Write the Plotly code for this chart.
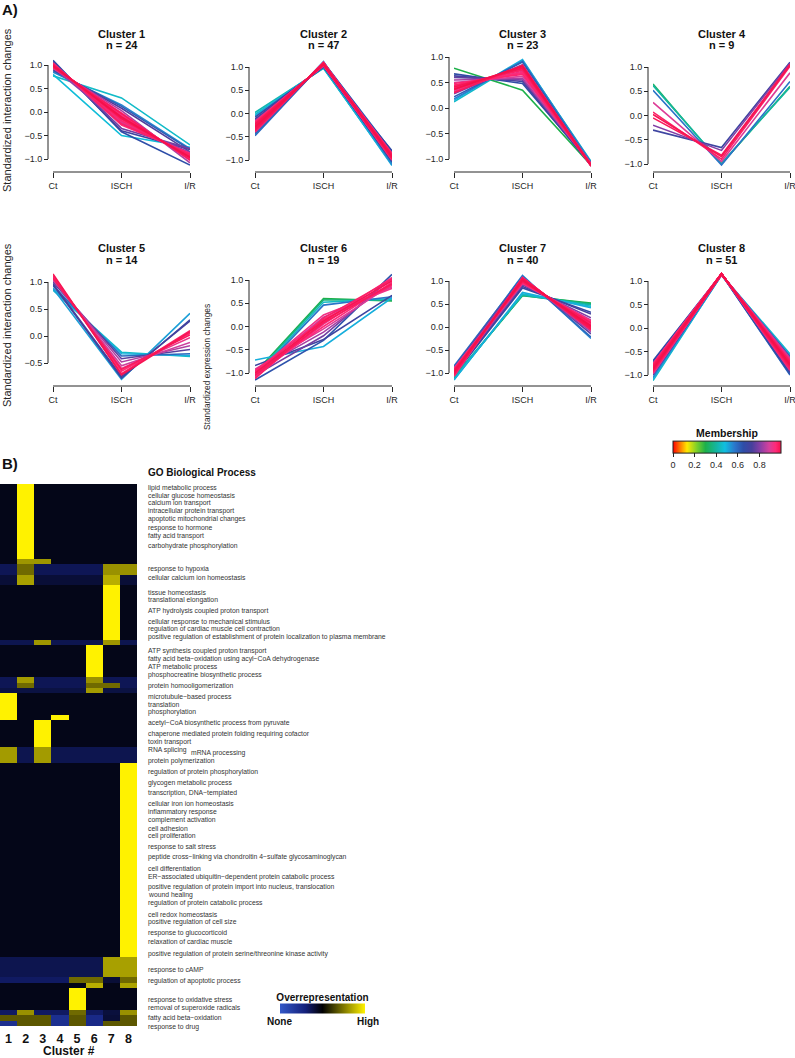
import plotly.graph_objects as go
from plotly.colors import sample_colorscale

W, H = 795, 1058
FONT = "Liberation Sans, Arial, Helvetica, sans-serif"
TXT = "#262626"

# ---------------- data: standardized profiles per cluster ----------------
conditions = ["Ct", "ISCH", "I/R"]
cluster_ids = [1, 2, 3, 4, 5, 6, 7, 8]

c1_ct = [0.77, 0.80, 0.85, 0.88, 1.10, 1.08, 0.90, 1.05, 0.95, 0.93, 1.00, 0.96, 0.98, 1.02, 0.94, 1.00, 1.04, 0.97, 1.01, 0.99, 1.03, 0.95, 1.00, 0.98]
c1_isch = [0.30, -0.50, 0.15, 0.12, -0.42, -0.40, 0.08, -0.35, -0.25, 0.03, -0.22, -0.05, -0.12, -0.20, -0.02, -0.15, -0.28, -0.08, -0.18, -0.10, -0.25, -0.04, -0.14, -0.11]
c1_ir = [-0.70, -0.75, -0.78, -0.80, -1.13, -0.80, -0.85, -0.78, -0.86, -1.08, -0.90, -1.00, -0.96, -0.92, -1.03, -0.95, -0.88, -0.99, -0.93, -0.97, -0.90, -1.02, -0.95, -0.97]
c1_mem = [0.45, 0.47, 0.55, 0.62, 0.65, 0.70, 0.74, 0.78, 0.82, 0.85, 0.88, 0.90, 0.91, 0.92, 0.93, 0.94, 0.95, 0.95, 0.96, 0.97, 0.97, 0.98, 0.99, 1.00]

c2_ct = [0.02, -0.02, -0.05, -0.45, -0.48, -0.42, -0.08, -0.38, -0.12, -0.35, -0.15, -0.30, -0.20, -0.25, -0.18, -0.28, -0.22, -0.33, -0.26, -0.31,
         -0.19, -0.36, -0.23, -0.29, -0.34, -0.21, -0.27, -0.40, -0.24, -0.32, -0.17, -0.38, -0.26, -0.30, -0.22, -0.35, -0.28, -0.20, -0.33, -0.25,
         -0.37, -0.29, -0.23, -0.31, -0.27, -0.34, -0.29]
c2_isch = [0.97, 0.98, 1.00, 1.12, 1.10, 1.08, 1.00, 1.10, 1.01, 1.08, 1.02, 1.06, 1.04, 1.05, 1.03, 1.06, 1.05, 1.08, 1.06, 1.07,
           1.04, 1.09, 1.05, 1.07, 1.08, 1.04, 1.06, 1.10, 1.05, 1.08, 1.03, 1.09, 1.06, 1.07, 1.05, 1.08, 1.07, 1.04, 1.08, 1.06,
           1.09, 1.07, 1.05, 1.07, 1.06, 1.08, 1.06]
c2_ir = [-1.10, -1.08, -1.12, -1.10, -0.82, -1.05, -0.80, -0.85, -1.02, -0.95, -0.88, -1.00, -0.92, -0.90, -0.96, -0.86, -0.98, -0.93, -0.91, -0.89,
         -0.94, -0.97, -0.87, -0.95, -0.90, -0.99, -0.93, -0.96, -0.88, -0.92, -0.97, -0.91, -1.00, -0.86, -0.94, -0.98, -0.90, -0.92, -0.95, -0.89,
         -0.93, -0.97, -0.91, -0.94, -0.92, -0.96, -0.93]
c2_mem = [0.42, 0.45, 0.50, 0.55, 0.60, 0.63, 0.66, 0.68, 0.72, 0.74, 0.77, 0.80, 0.82, 0.84, 0.86, 0.87, 0.88, 0.89, 0.90, 0.90,
          0.91, 0.91, 0.92, 0.92, 0.93, 0.93, 0.94, 0.94, 0.95, 0.95, 0.95, 0.96, 0.96, 0.96, 0.97, 0.97, 0.97, 0.97, 0.98, 0.98,
          0.98, 0.98, 0.99, 0.99, 0.99, 0.99, 1.00]

c3_ct = [0.78, 0.12, 0.15, 0.18, 0.22, 0.67, 0.63, 0.60, 0.28, 0.55, 0.35, 0.50, 0.40, 0.45, 0.32, 0.38, 0.42, 0.48, 0.36, 0.44, 0.30, 0.41, 0.37]
c3_isch = [0.35, 0.93, 0.95, 0.92, 0.90, 0.48, 0.52, 0.55, 0.85, 0.58, 0.78, 0.62, 0.72, 0.68, 0.82, 0.76, 0.70, 0.66, 0.80, 0.74, 0.84, 0.78, 0.82]
c3_ir = [-1.12, -1.05, -1.08, -1.06, -1.10, -1.10, -1.12, -1.08, -1.14, -1.10, -1.12, -1.09, -1.13, -1.11, -1.10, -1.14, -1.12, -1.10, -1.13, -1.11, -1.12, -1.14, -1.12]
c3_mem = [0.30, 0.45, 0.50, 0.56, 0.62, 0.66, 0.70, 0.76, 0.80, 0.84, 0.87, 0.89, 0.90, 0.92, 0.93, 0.94, 0.95, 0.96, 0.97, 0.97, 0.98, 0.99, 1.00]

c4_ct = [0.65, 0.62, 0.52, 0.27, 0.07, 0.02, -0.05, -0.20, -0.30]
c4_isch = [-1.00, -0.98, -1.02, -0.95, -0.90, -0.85, -0.82, -0.72, -0.66]
c4_ir = [0.60, 0.58, 0.70, 0.88, 1.02, 1.05, 1.05, 1.08, 1.10]
c4_mem = [0.33, 0.40, 0.58, 0.90, 0.97, 0.99, 0.98, 0.80, 0.70]

c5_ct = [0.85, 0.88, 0.88, 0.93, 0.95, 0.97, 1.00, 1.03, 1.05, 1.08, 1.10, 1.12, 1.15, 1.07]
c5_isch = [-0.30, -0.33, -0.80, -0.37, -0.78, -0.75, -0.42, -0.48, -0.55, -0.60, -0.65, -0.70, -0.72, -0.62]
c5_ir = [-0.38, -0.36, 0.42, -0.33, 0.30, 0.28, -0.25, -0.18, -0.12, -0.03, 0.05, 0.10, 0.08, 0.02]
c5_mem = [0.45, 0.50, 0.52, 0.60, 0.68, 0.72, 0.75, 0.85, 0.88, 0.92, 0.95, 0.97, 0.99, 0.98]

c6_ct = [-1.00, -1.02, -1.05, -0.72, -1.08, -1.15, -0.84, -1.05, -0.95, -1.00, -0.92, -1.08, -0.98, -1.10, -1.02, -0.95, -1.12, -1.05, -1.00]
c6_isch = [0.60, 0.57, 0.52, -0.43, 0.46, -0.30, -0.28, -0.20, -0.12, 0.20, -0.05, 0.05, 0.25, 0.10, 0.00, 0.15, 0.18, 0.08, 0.12]
c6_ir = [0.55, 0.57, 0.60, 0.62, 0.64, 1.12, 0.67, 1.05, 0.95, 0.85, 0.90, 1.00, 0.82, 1.05, 0.95, 0.88, 1.02, 0.92, 0.98]
c6_mem = [0.30, 0.36, 0.44, 0.50, 0.58, 0.64, 0.70, 0.78, 0.84, 0.88, 0.90, 0.92, 0.93, 0.94, 0.95, 0.96, 0.97, 0.98, 0.99]

c7_ct = [-1.10, -1.12, -1.08, -1.14, -1.15, -0.88, -0.85, -1.05, -1.02, -0.90, -1.00, -0.92, -0.98, -0.95, -1.00, -0.92, -1.05, -0.97, -0.90, -1.02,
         -0.94, -1.07, -0.99, -0.93, -1.03, -0.96, -1.01, -0.91, -1.06, -0.98, -0.95, -1.04, -0.97, -1.00, -0.93, -1.02, -0.96, -0.99, -1.01, -0.97]
c7_isch = [0.68, 0.70, 0.69, 0.72, 0.75, 1.12, 1.10, 0.85, 0.88, 1.08, 0.92, 1.05, 0.95, 1.00, 1.03, 0.98, 1.06, 1.01, 0.96, 1.04,
           0.99, 1.08, 1.02, 0.97, 1.05, 1.00, 1.03, 0.95, 1.07, 1.01, 0.99, 1.05, 1.02, 1.04, 0.98, 1.06, 1.01, 1.03, 1.05, 1.02]
c7_ir = [0.52, 0.50, 0.48, 0.45, 0.42, -0.25, -0.22, 0.32, 0.28, -0.15, 0.20, -0.10, 0.15, 0.05, 0.00, 0.08, -0.05, 0.03, 0.11, -0.02,
         0.06, -0.07, 0.02, 0.10, -0.03, 0.04, 0.00, 0.13, -0.06, 0.02, 0.07, -0.04, 0.01, -0.01, 0.09, -0.05, 0.03, 0.00, -0.03, 0.02]
c7_mem = [0.30, 0.35, 0.40, 0.45, 0.50, 0.55, 0.60, 0.68, 0.72, 0.76, 0.80, 0.84, 0.86, 0.88, 0.89, 0.90, 0.90, 0.91, 0.91, 0.92,
          0.92, 0.93, 0.93, 0.94, 0.94, 0.95, 0.95, 0.95, 0.96, 0.96, 0.96, 0.97, 0.97, 0.97, 0.98, 0.98, 0.98, 0.99, 0.99, 1.00]

c8_ct = [-1.12, -1.08, -1.05, -0.72, -0.75, -0.70, -1.00, -0.78, -0.95, -0.82, -0.90, -0.85, -0.98, -0.76, -0.88, -0.80, -0.92, -0.84, -0.78, -0.96,
         -0.86, -0.82, -0.90, -0.76, -0.88, -0.94, -0.80, -0.85, -0.91, -0.79, -0.87, -0.83, -0.93, -0.81, -0.89, -0.84, -0.77, -0.95, -0.86, -0.82,
         -0.90, -0.79, -0.88, -0.84, -0.92, -0.81, -0.86, -0.83, -0.89, -0.85, -0.87]
c8_isch = [1.13, 1.12, 1.13, 1.14, 1.14, 1.15, 1.13, 1.15, 1.14, 1.15, 1.14, 1.15, 1.14, 1.15, 1.15, 1.15, 1.14, 1.15, 1.16, 1.14,
           1.15, 1.15, 1.14, 1.16, 1.15, 1.14, 1.15, 1.15, 1.14, 1.16, 1.15, 1.15, 1.14, 1.15, 1.15, 1.15, 1.16, 1.14, 1.15, 1.15,
           1.14, 1.16, 1.15, 1.15, 1.14, 1.15, 1.15, 1.15, 1.15, 1.15, 1.15]
c8_ir = [-0.55, -0.58, -0.60, -1.00, -0.98, -0.95, -0.62, -0.92, -0.66, -0.88, -0.70, -0.85, -0.64, -0.90, -0.75, -0.85, -0.72, -0.80, -0.88, -0.68,
         -0.78, -0.83, -0.74, -0.86, -0.76, -0.70, -0.82, -0.79, -0.73, -0.87, -0.77, -0.81, -0.71, -0.84, -0.75, -0.80, -0.89, -0.69, -0.78, -0.82,
         -0.74, -0.86, -0.76, -0.81, -0.72, -0.83, -0.79, -0.80, -0.77, -0.80, -0.78]
c8_mem = [0.45, 0.50, 0.55, 0.60, 0.64, 0.67, 0.70, 0.76, 0.79, 0.82, 0.84, 0.86, 0.87, 0.88, 0.89, 0.90, 0.90, 0.90, 0.91, 0.91,
          0.91, 0.92, 0.92, 0.92, 0.93, 0.93, 0.93, 0.94, 0.94, 0.94, 0.95, 0.95, 0.95, 0.95, 0.96, 0.96, 0.96, 0.96, 0.97, 0.97,
          0.97, 0.97, 0.98, 0.98, 0.98, 0.98, 0.99, 0.99, 0.99, 0.99, 1.00]

clusters = [
    (c1_ct, c1_isch, c1_ir, c1_mem), (c2_ct, c2_isch, c2_ir, c2_mem),
    (c3_ct, c3_isch, c3_ir, c3_mem), (c4_ct, c4_isch, c4_ir, c4_mem),
    (c5_ct, c5_isch, c5_ir, c5_mem), (c6_ct, c6_isch, c6_ir, c6_mem),
    (c7_ct, c7_isch, c7_ir, c7_mem), (c8_ct, c8_isch, c8_ir, c8_mem),
]

# ---------------- data: GO enrichment heatmap ----------------
# band edges (heatmap row units, 0 = top, 100 = bottom)
hm_edges = [0, 13.84, 14.76, 16.79, 18.63, 28.78, 29.70, 35.61, 36.72, 37.64, 38.56, 42.62, 43.54,
            48.52, 51.48, 87.27, 90.96, 92.07, 92.99, 97.05, 97.97, 99.08, 100]
hm_z = [
    [0.46, 1.00, 0.46, 0.46, 0.46, 0.46, 0.46, 0.46],
    [0.46, 0.81, 0.81, 0.46, 0.46, 0.46, 0.46, 0.46],
    [0.36, 0.72, 0.36, 0.36, 0.36, 0.36, 0.80, 0.80],
    [0.41, 0.83, 0.41, 0.41, 0.41, 0.41, 0.86, 0.41],
    [0.46, 0.46, 0.46, 0.46, 0.46, 0.46, 1.00, 0.46],
    [0.37, 0.37, 0.81, 0.37, 0.37, 0.37, 0.81, 0.37],
    [0.46, 0.46, 0.46, 0.46, 0.46, 1.00, 0.46, 0.46],
    [0.36, 0.82, 0.36, 0.36, 0.36, 0.80, 0.36, 0.36],
    [0.36, 0.72, 0.36, 0.36, 0.36, 0.72, 0.72, 0.36],
    [0.39, 0.39, 0.39, 0.39, 0.39, 0.82, 0.39, 0.39],
    [1.00, 0.46, 0.46, 0.46, 0.46, 0.46, 0.46, 0.46],
    [1.00, 0.46, 0.46, 1.00, 0.46, 0.46, 0.46, 0.46],
    [0.46, 0.46, 1.00, 0.46, 0.46, 0.46, 0.46, 0.46],
    [0.82, 0.37, 0.82, 0.37, 0.37, 0.37, 0.37, 0.37],
    [0.46, 0.46, 0.46, 0.46, 0.46, 0.46, 0.46, 1.00],
    [0.37, 0.37, 0.37, 0.37, 0.37, 0.37, 0.83, 0.83],
    [0.34, 0.34, 0.34, 0.34, 0.72, 0.72, 0.41, 0.72],
    [0.46, 0.46, 0.46, 0.46, 0.46, 0.86, 0.46, 0.84],
    [0.46, 0.46, 0.46, 0.46, 1.00, 0.46, 0.46, 0.46],
    [0.34, 0.80, 0.34, 0.34, 0.72, 0.34, 0.40, 0.80],
    [0.68, 0.68, 0.68, 0.22, 0.68, 0.25, 0.41, 0.68],
    [0.22, 0.68, 0.68, 0.22, 0.68, 0.25, 0.68, 0.68],
]

go_terms = [
    "lipid metabolic process", "cellular glucose homeostasis", "calcium ion transport",
    "intracellular protein transport", "apoptotic mitochondrial changes", "response to hormone",
    "fatty acid transport", "carbohydrate phosphorylation", "response to hypoxia",
    "cellular calcium ion homeostasis", "tissue homeostasis", "translational elongation",
    "ATP hydrolysis coupled proton transport", "cellular response to mechanical stimulus",
    "regulation of cardiac muscle cell contraction",
    "positive regulation of establishment of protein localization to plasma membrane",
    "ATP synthesis coupled proton transport", "fatty acid beta−oxidation using acyl−CoA dehydrogenase",
    "ATP metabolic process", "phosphocreatine biosynthetic process", "protein homooligomerization",
    "microtubule−based process", "translation", "phosphorylation",
    "acetyl−CoA biosynthetic process from pyruvate", "chaperone mediated protein folding requiring cofactor",
    "toxin transport", "RNA splicing", "mRNA processing", "protein polymerization",
    "regulation of protein phosphorylation", "glycogen metabolic process", "transcription, DNA−templated",
    "cellular iron ion homeostasis", "inflammatory response", "complement activation", "cell adhesion",
    "cell proliferation", "response to salt stress",
    "peptide cross−linking via chondroitin 4−sulfate glycosaminoglycan", "cell differentiation",
    "ER−associated ubiquitin−dependent protein catabolic process",
    "positive regulation of protein import into nucleus, translocation", "wound healing",
    "regulation of protein catabolic process", "cell redox homeostasis", "positive regulation of cell size",
    "response to glucocorticoid", "relaxation of cardiac muscle",
    "positive regulation of protein serine/threonine kinase activity", "response to cAMP",
    "regulation of apoptotic process", "response to oxidative stress", "removal of superoxide radicals",
    "fatty acid beta−oxidation", "response to drug",
]
go_pos = [0.68, 2.16, 3.56, 4.98, 6.51, 8.06, 9.54, 11.44, 15.63, 17.21, 19.98, 21.40, 23.43, 25.41,
          26.81, 28.28, 30.76, 32.29, 33.71, 35.24, 37.21, 39.24, 40.65, 42.12, 44.15, 46.13, 47.60,
          49.08, 49.58, 51.05, 53.08, 55.11, 57.07, 59.04, 60.52, 61.99, 63.47, 64.94, 66.92, 68.87,
          70.90, 72.45, 74.41, 75.89, 77.36, 79.39, 80.87, 82.84, 84.32, 86.72, 89.72, 91.64, 95.15,
          96.62, 98.58, 100.13]

# ---------------- colour scales ----------------
membership_scale = [
    [0.00, "#FF0000"], [0.06, "#FF7000"], [0.13, "#FFE800"], [0.22, "#7CD02A"], [0.30, "#1DB04A"],
    [0.40, "#14B5A0"], [0.48, "#10BEE0"], [0.57, "#2A78CC"], [0.65, "#2E4EA8"], [0.73, "#47409C"],
    [0.81, "#8A3FA6"], [0.89, "#D6409C"], [0.95, "#FF2A78"], [1.00, "#F5104A"],
]
overrep_scale = [[0.0, "#3358C8"], [0.3, "#14207A"], [0.5, "#000000"], [1.0, "#FFF200"]]

# ---------------- layout geometry (pixels) ----------------
col_geom = [(48, 53, 190), (249, 255, 392), (449, 454, 591), (648, 653, 790)]  # y-axis line, Ct, I/R
row_axis_y = [172, 386]
row_title_y = [(34, 45), (248, 260)]
panel_ycal = [
    (1.0, 65, -1.0, 159, -1.22, 1.18, -1.0),
    (1.0, 67, -1.0, 160, -1.20, 1.18, -1.0),
    (1.0, 57, -1.0, 159, -1.22, 1.02, -1.0),
    (1.0, 67, -1.0, 164, -1.10, 1.18, -1.0),
    (1.0, 282, -0.5, 363, -0.88, 1.20, -0.5),
    (1.0, 280, -1.0, 373, -1.20, 1.18, -1.0),
    (1.0, 281, -1.0, 373, -1.20, 1.18, -1.0),
    (1.0, 281, -1.0, 375, -1.18, 1.20, -1.0),
]
HM_TOP, HM_BOTTOM = 484, 1026


def px_x(p):
    return p / W


def px_y(p):
    return 1 - p / H


def aid(i):
    return "" if i == 1 else str(i)


fig = go.Figure()
layout = dict(
    width=W, height=H, margin=dict(l=0, r=0, t=0, b=0, autoexpand=False),
    paper_bgcolor="white", plot_bgcolor="white",
    font=dict(family=FONT, color=TXT), showlegend=False,
)
shapes = []
annotations = []

for k, (ct, isch, ir, mem) in enumerate(clusters):
    i = k + 1
    r, c = divmod(k, 4)
    yl, xct, xir = col_geom[c]
    va, pa, vb, pb, lo, hi, alo = panel_ycal[k]
    ppu = (pb - pa) / (va - vb)
    top = pa - (hi - va) * ppu
    bottom = pa + (va - lo) * ppu

    order = sorted(range(len(mem)), key=lambda j: mem[j])
    for j in order:
        col = sample_colorscale(membership_scale, [mem[j]])[0]
        fig.add_trace(go.Scatter(
            x=[0, 1, 2], y=[ct[j], isch[j], ir[j]], mode="lines",
            line=dict(color=col, width=1.6), hoverinfo="skip",
            xaxis="x" + aid(i), yaxis="y" + aid(i), showlegend=False,
        ))

    ticks_y = [v / 2 for v in range(int(alo * 2), 3)]
    layout["xaxis" + aid(i)] = dict(
        domain=[px_x(xct), px_x(xir)], range=[0, 2], anchor="free", position=px_y(row_axis_y[r]),
        tickvals=[0, 1, 2], ticktext=conditions, ticks="outside", ticklen=5, tickwidth=1,
        tickcolor=TXT, showline=False, showgrid=False, zeroline=False, automargin=False,
        ticklabeloverflow="allow",
        tickfont=dict(size=9, color=TXT, family=FONT), fixedrange=True,
    )
    layout["yaxis" + aid(i)] = dict(
        domain=[px_y(bottom), px_y(top)], range=[lo, hi], anchor="free", position=px_x(yl),
        tickvals=ticks_y, tickformat=".1f", ticks="outside", ticklen=4, tickwidth=1,
        tickcolor=TXT, showline=False, showgrid=False, zeroline=False, automargin=False,
        tickfont=dict(size=9, color=TXT, family=FONT), fixedrange=True,
    )
    shapes.append(dict(type="line", xref="x" + aid(i), yref="paper", x0=0, x1=2,
                       y0=px_y(row_axis_y[r]), y1=px_y(row_axis_y[r]), line=dict(color=TXT, width=1)))
    shapes.append(dict(type="line", xref="paper", yref="y" + aid(i), x0=px_x(yl), x1=px_x(yl),
                       y0=alo, y1=1.0, line=dict(color=TXT, width=1)))
    cx = px_x((xct + xir) / 2)
    annotations.append(dict(text=f"<b>Cluster {cluster_ids[k]}</b>", x=cx, y=px_y(row_title_y[r][0]),
                            xref="paper", yref="paper", showarrow=False, xanchor="center", yanchor="middle",
                            font=dict(size=11, color="#111")))
    annotations.append(dict(text=f"<b>n = {len(ct)}</b>", x=cx, y=px_y(row_title_y[r][1]),
                            xref="paper", yref="paper", showarrow=False, xanchor="center", yanchor="middle",
                            font=dict(size=11, color="#111")))

# membership colour bar (dummy invisible marker)
fig.add_trace(go.Scatter(
    x=[1], y=[50], mode="markers", xaxis="x", yaxis="y", hoverinfo="skip", showlegend=False,
    marker=dict(color=[0.5], colorscale=membership_scale, cmin=0, cmax=1, opacity=0, showscale=True,
                colorbar=dict(orientation="h", x=px_x(727), xanchor="center", y=px_y(450), yanchor="middle",
                              len=108, lenmode="pixels", thickness=12, thicknessmode="pixels",
                              xpad=0, ypad=0, outlinewidth=1, outlinecolor="#222",
                              ticks="outside", ticklen=4, tickcolor="#222",
                              tickvals=[0, 0.2, 0.4, 0.6, 0.8], ticktext=["0", "0.2", "0.4", "0.6", "0.8"],
                              tickfont=dict(size=9, color=TXT, family=FONT),
                              title=dict(text="<b>Membership</b>", side="top",
                                         font=dict(size=10.5, color="#111", family=FONT)))),
))

# heatmap
fig.add_trace(go.Heatmap(
    x=cluster_ids, y=hm_edges, z=hm_z, zmin=0, zmax=1, colorscale=overrep_scale,
    xaxis="x9", yaxis="y9", hoverinfo="skip",
    colorbar=dict(orientation="h", x=px_x(322.5), xanchor="center", y=px_y(1003), yanchor="middle",
                  len=85, lenmode="pixels", thickness=10, thicknessmode="pixels", xpad=0, ypad=0,
                  outlinewidth=0, ticks="", showticklabels=False,
                  title=dict(text="<b>Overrepresentation</b>", side="top",
                             font=dict(size=10, color="#111", family=FONT))),
))
layout["xaxis9"] = dict(domain=[0, px_x(137)], range=[0.5, 8.5], anchor="y9",
                        tickvals=cluster_ids, ticktext=[f"<b>{c}</b>" for c in cluster_ids],
                        ticks="", showgrid=False, zeroline=False, showline=False, automargin=False,
                        ticklabelstandoff=3,
                        tickfont=dict(size=12.5, color="#111", family=FONT), fixedrange=True)
layout["yaxis9"] = dict(domain=[px_y(HM_BOTTOM), px_y(HM_TOP)], range=[100, 0], anchor="x9", automargin=False,
                        showticklabels=False, ticks="", showgrid=False, zeroline=False, fixedrange=True)

row_px = (HM_BOTTOM - HM_TOP) / 100.0
for term, pos in zip(go_terms, go_pos):
    xp = 189 if term == "mRNA processing" else 146
    annotations.append(dict(text=term, x=px_x(xp), y=px_y(HM_TOP + pos * row_px), xref="paper", yref="paper",
                            showarrow=False, xanchor="left", yanchor="middle",
                            font=dict(size=6.8, color="#333", family=FONT)))

# other texts
annotations += [
    dict(text="<b>A)</b>", x=0, y=px_y(10), xref="paper", yref="paper", showarrow=False,
         xanchor="left", yanchor="middle", font=dict(size=15, color="#111")),
    dict(text="<b>B)</b>", x=0, y=px_y(463), xref="paper", yref="paper", showarrow=False,
         xanchor="left", yanchor="middle", font=dict(size=15, color="#111")),
    dict(text="Standardized interaction changes", x=px_x(7), y=px_y(110), xref="paper", yref="paper",
         showarrow=False, textangle=-90, xanchor="center", yanchor="middle", font=dict(size=11, color=TXT)),
    dict(text="Standardized interaction changes", x=px_x(7), y=px_y(325), xref="paper", yref="paper",
         showarrow=False, textangle=-90, xanchor="center", yanchor="middle", font=dict(size=11, color=TXT)),
    dict(text="Standardized expression changes", x=px_x(207), y=px_y(367), xref="paper", yref="paper",
         showarrow=False, textangle=-90, xanchor="center", yanchor="middle", font=dict(size=8.4, color=TXT)),
    dict(text="<b>GO Biological Process</b>", x=px_x(146), y=px_y(472), xref="paper", yref="paper",
         showarrow=False, xanchor="left", yanchor="middle", font=dict(size=10, color="#111")),
    dict(text="<b>Cluster #</b>", x=px_x(68.5), y=px_y(1051), xref="paper", yref="paper",
         showarrow=False, xanchor="center", yanchor="middle", font=dict(size=12, color="#111")),
    dict(text="<b>None</b>", x=px_x(279.5), y=px_y(1021), xref="paper", yref="paper",
         showarrow=False, xanchor="center", yanchor="middle", font=dict(size=10, color="#111")),
    dict(text="<b>High</b>", x=px_x(368), y=px_y(1021), xref="paper", yref="paper",
         showarrow=False, xanchor="center", yanchor="middle", font=dict(size=10, color="#111")),
]

layout["shapes"] = shapes
layout["annotations"] = annotations
fig.update_layout(**layout)
fig.write_html(
    "out.html",
    config={"displayModeBar": False},
    post_script="document.body.style.margin='0';document.body.style.overflow='hidden';",
)
